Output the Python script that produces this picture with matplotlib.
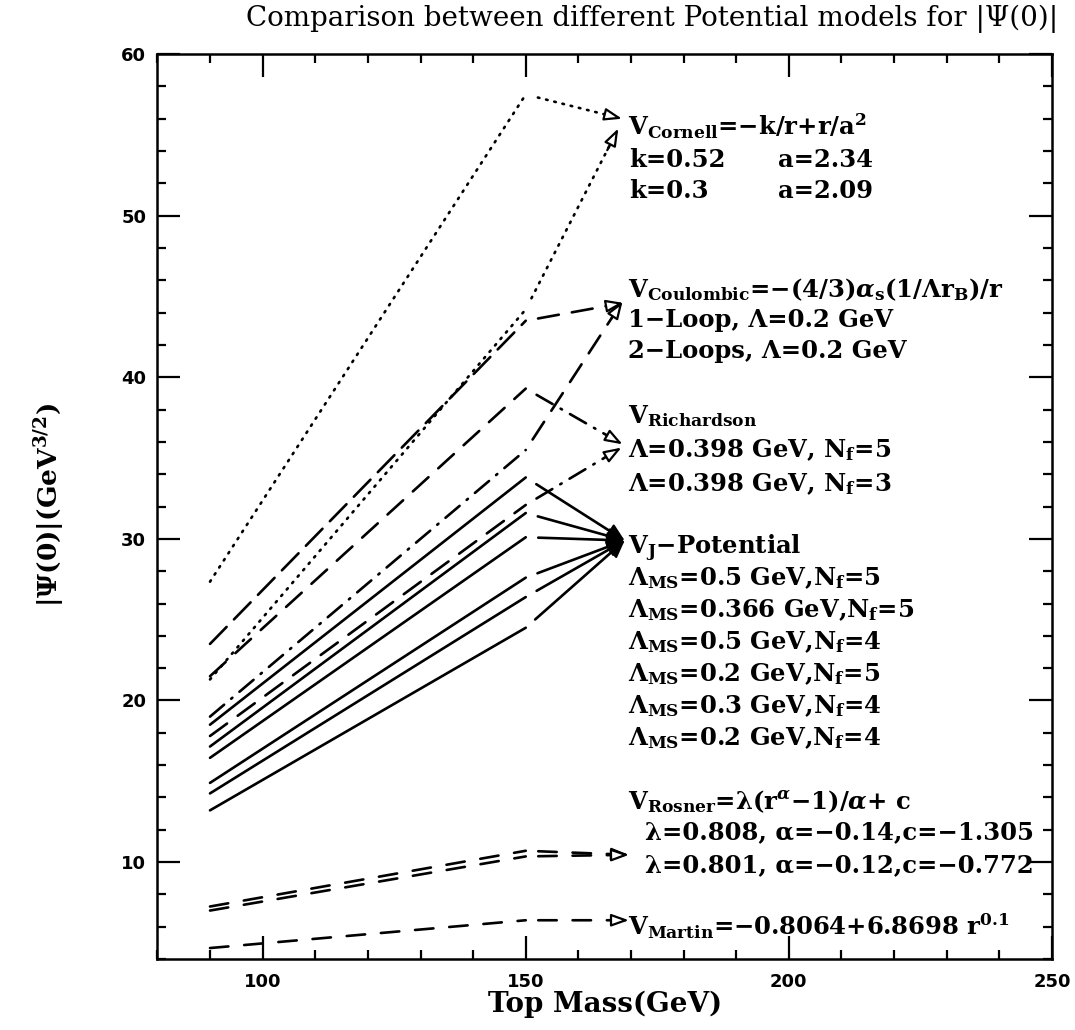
import matplotlib
matplotlib.use("Agg")
import matplotlib.pyplot as plt
from matplotlib.ticker import MultipleLocator

plt.rcParams['font.family'] = ['DejaVu Serif', 'DejaVu Sans']
plt.rcParams['mathtext.fontset'] = 'custom'
plt.rcParams['mathtext.rm'] = 'DejaVu Serif:bold'
plt.rcParams['mathtext.it'] = 'DejaVu Serif:italic:bold'
plt.rcParams['mathtext.bf'] = 'DejaVu Serif:bold'

# top mass (GeV) at which |psi(0)| was evaluated
top_mass = [90, 150]

# |psi(0)| in GeV^(3/2) for each potential model
cornell_k052 = [27.35, 57.5]
cornell_k030 = [21.3, 44.2]
coulomb_1loop = [23.5, 43.5]
coulomb_2loop = [19.0, 35.5]
richardson_nf5 = [21.5, 39.3]
richardson_nf3 = [17.8, 32.1]
vj_05_nf5 = [18.5, 33.8]
vj_0366_nf5 = [17.15, 31.6]
vj_05_nf4 = [16.45, 30.1]
vj_02_nf5 = [14.9, 27.6]
vj_03_nf4 = [14.25, 26.4]
vj_02_nf4 = [13.2, 24.5]
rosner_1 = [7.25, 10.7]
rosner_2 = [7.0, 10.35]
martin = [4.68, 6.4]

# label block for each group: header, then parameter lines
cornell_text = [r'V$_{\rm Cornell}$=−k/r+r/a$^{\rm 2}$']
cornell_k = ['k=0.52', 'k=0.3']
cornell_a = ['a=2.34', 'a=2.09']
coulomb_text = [r'V$_{\rm Coulombic}$=−(4/3)$\alpha_{\rm s}$(1/Λr$_{\rm B}$)/r',
                '1−Loop, Λ=0.2 GeV', '2−Loops, Λ=0.2 GeV']
richardson_text = [r'V$_{\rm Richardson}$',
                   r'Λ=0.398 GeV, N$_{\rm f}$=5', r'Λ=0.398 GeV, N$_{\rm f}$=3']
vj_text = [r'V$_{\rm J}$−Potential',
           r'Λ$_{\rm MS}$=0.5 GeV,N$_{\rm f}$=5',
           r'Λ$_{\rm MS}$=0.366 GeV,N$_{\rm f}$=5',
           r'Λ$_{\rm MS}$=0.5 GeV,N$_{\rm f}$=4',
           r'Λ$_{\rm MS}$=0.2 GeV,N$_{\rm f}$=5',
           r'Λ$_{\rm MS}$=0.3 GeV,N$_{\rm f}$=4',
           r'Λ$_{\rm MS}$=0.2 GeV,N$_{\rm f}$=4']
rosner_text = [r'V$_{\rm Rosner}$=λ(r$^{\alpha}$−1)/$\alpha$+ c',
               'λ=0.808, α=−0.14,c=−1.305', 'λ=0.801, α=−0.12,c=−0.772']
martin_text = [r'V$_{\rm Martin}$=−0.8064+6.8698 r$^{\rm 0.1}$']

DOT = (0, (0.6, 2.6))
DASH = (0, (8, 5))
LONGDASH = (0, (9, 4))
DASHDOT = (0, (7, 3.5, 0.6, 3.5))
RDASH = (0, (7, 6))

fig = plt.figure(figsize=(10.75, 10.30), dpi=100)
ax = fig.add_axes([0.1464, 0.0689, 0.8322, 0.8786])
ax.set_xlim(80, 250)
ax.set_ylim(4, 60)


def draw(series, ls, tip, arrow_ls, filled=False):
    ax.plot(top_mass, series, color='black', lw=1.9, ls=ls,
            dash_capstyle='round', solid_capstyle='round')
    start = (top_mass[-1], series[-1])
    ax.annotate('', xy=tip, xytext=start,
                arrowprops=dict(arrowstyle='-', color='black', lw=1.9,
                                ls=arrow_ls, shrinkA=9, shrinkB=4))
    # arrow head on a short piece near the tip
    hx = tip[0] - (tip[0] - start[0]) * 0.12
    hy = tip[1] - (tip[1] - start[1]) * 0.12
    if filled:
        style = '-|>,head_length=0.7,head_width=0.32'
        fc = 'black'
    else:
        style = '-|>,head_length=0.7,head_width=0.25'
        fc = 'white'
    ax.annotate('', xy=tip, xytext=(hx, hy),
                arrowprops=dict(arrowstyle=style, fc=fc, ec='black', lw=1.6,
                                shrinkA=0, shrinkB=0, mutation_scale=15))


draw(cornell_k052, DOT, (168.3, 56.0), DOT)
draw(cornell_k030, DOT, (167.6, 55.4), DOT)
draw(coulomb_1loop, LONGDASH, (168.6, 44.6), DASH)
draw(coulomb_2loop, DASHDOT, (168.4, 44.7), DASH)
draw(richardson_nf5, DASH, (168.4, 35.85), DASHDOT)
draw(richardson_nf3, DASH, (168.2, 35.65), DASHDOT)
for s in [vj_05_nf5, vj_0366_nf5, vj_05_nf4, vj_02_nf5, vj_03_nf4, vj_02_nf4]:
    draw(s, '-', (168.8, 29.9), '-', filled=True)
draw(rosner_1, RDASH, (169.6, 10.45), RDASH)
draw(rosner_2, RDASH, (169.6, 10.45), RDASH)
draw(martin, RDASH, (169.6, 6.4), RDASH)

# text blocks to the right of the arrow heads
fs = 17.5
kw = dict(fontsize=fs, fontweight='bold', va='center_baseline', ha='left')
ax.text(169.4, 55.7, cornell_text[0], **kw)
for yy, k, a in zip([53.6, 51.7], cornell_k, cornell_a):
    ax.text(169.6, yy, k, **kw)
    ax.text(198.0, yy, a, **kw)
for yy, t in zip([45.6, 43.7, 41.8], coulomb_text):
    ax.text(169.4, yy, t, **kw)
for yy, t in zip([37.8, 35.7, 33.6], richardson_text):
    ax.text(169.4, yy, t, **kw)
for i, t in enumerate(vj_text):
    ax.text(169.4, 29.75 - 1.98 * i, t, **kw)
ax.text(169.4, 13.95, rosner_text[0], **kw)
ax.text(172.6, 12.0, rosner_text[1], **kw)
ax.text(172.6, 9.94, rosner_text[2], **kw)
ax.text(169.4, 6.2, martin_text[0], **kw)

# frame and ticks
ax.xaxis.set_major_locator(MultipleLocator(50))
ax.xaxis.set_minor_locator(MultipleLocator(10))
ax.yaxis.set_major_locator(MultipleLocator(10))
ax.yaxis.set_minor_locator(MultipleLocator(2))
ax.tick_params(which='both', direction='in', top=True, right=True,
               width=1.6, labelsize=13)
ax.tick_params(which='major', length=16.5)
ax.tick_params(which='minor', length=6.5)
ax.tick_params(axis='x', pad=10)
ax.tick_params(axis='y', pad=8)
for lab in ax.get_xticklabels() + ax.get_yticklabels():
    lab.set_family('DejaVu Sans')
    lab.set_fontweight('bold')
for sp in ax.spines.values():
    sp.set_linewidth(1.8)
ax.set_xticks([100, 150, 200, 250])
ax.set_yticks([10, 20, 30, 40, 50, 60])

ax.set_xlabel('Top Mass(GeV)', fontsize=20, fontweight='bold', labelpad=0)
fig.text(0.046, 0.51, r'|Ψ(0)|(GeV$^{\rm 3/2}$)', rotation=90, fontsize=19,
         fontweight='bold', ha='center', va='center')
fig.text(0.607, 0.982, 'Comparison between different Potential models for |Ψ(0)|',
         fontsize=20, ha='center', va='center')

fig.savefig('out.png', dpi=100)
